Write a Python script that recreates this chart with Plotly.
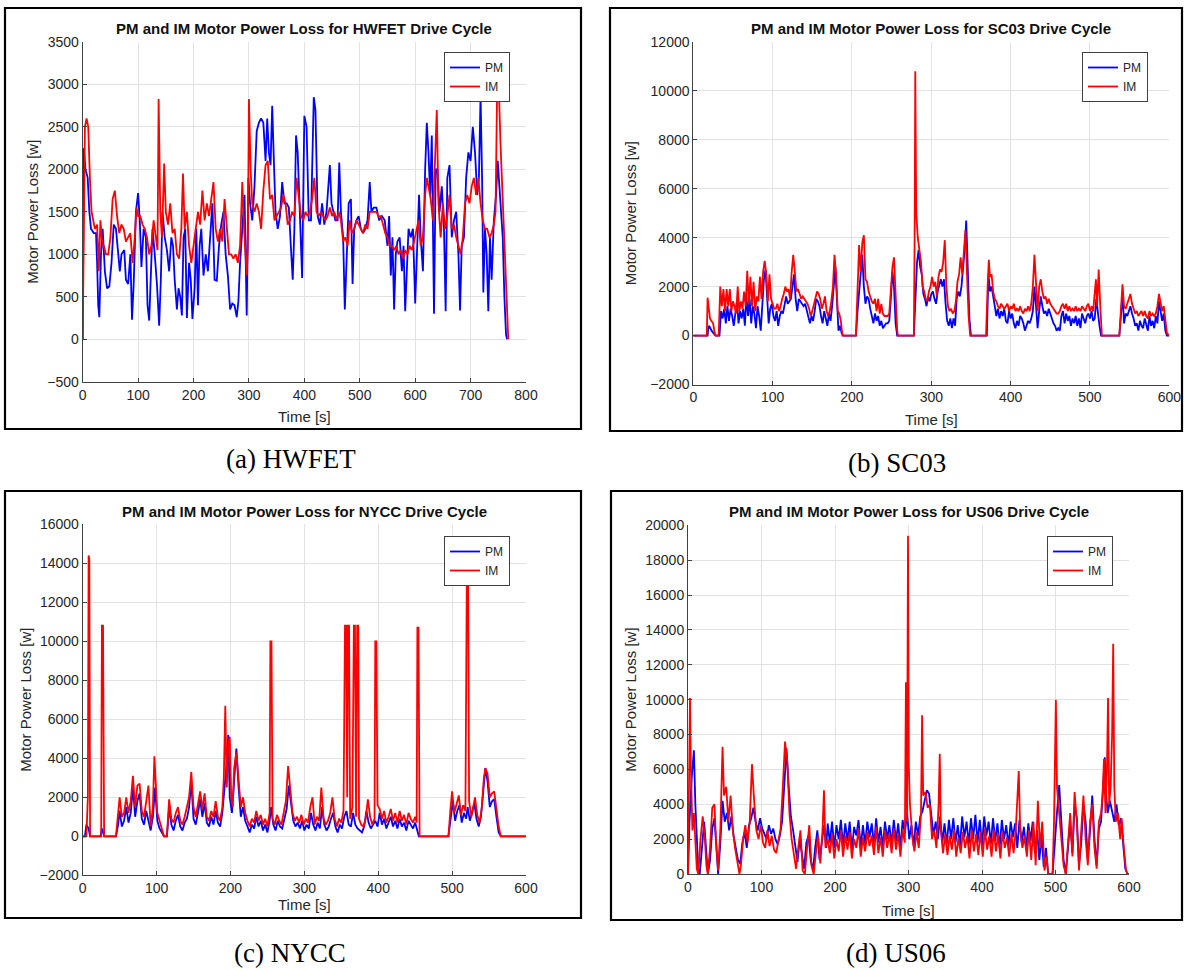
import plotly.graph_objects as go

W, H = 1184, 970

# ---------------- DATA (time [s], loss [W]) ----------------
HWFET_PM = [[0,0],[2,2250],[5,2000],[9,1900],[12,1500],[15,1300],[20,1250],[24,1250],[26,900],[28,400],[30,260],[33,1000],[36,1300],[40,800],[44,600],[48,620],[52,900],[56,1350],[60,1300],[64,1050],[67,800],[70,1000],[75,1050],[78,700],[82,650],[86,1000],[89,230],[92,650],[96,1500],[100,1720],[103,1400],[106,850],[110,1300],[114,1200],[117,400],[120,220],[123,750],[126,1300],[130,1000],[134,650],[138,160],[141,700],[144,1500],[148,1200],[152,1050],[156,800],[160,1200],[163,1100],[166,700],[170,350],[173,600],[176,500],[179,280],[182,1200],[185,1300],[188,250],[192,900],[195,700],[198,240],[202,600],[205,1300],[208,400],[211,1100],[214,1300],[218,750],[222,1000],[226,800],[230,1200],[234,1600],[238,700],[242,690],[246,1100],[250,1350],[254,1500],[258,1000],[262,750],[266,350],[270,420],[274,400],[278,260],[281,450],[284,900],[288,1300],[292,1700],[296,280],[299,1900],[302,1600],[306,1400],[310,1800],[314,2450],[318,2550],[322,2600],[326,2550],[330,2100],[333,2600],[336,2200],[339,2050],[342,2750],[345,2100],[348,1500],[352,1300],[356,1450],[360,1850],[364,1600],[368,1600],[372,1550],[376,1050],[379,700],[382,1300],[385,2400],[388,2200],[392,1500],[396,720],[400,2630],[404,2500],[408,1400],[412,1400],[417,2850],[420,2700],[424,1450],[428,1350],[432,1600],[436,1350],[440,1500],[446,2050],[449,1600],[452,1500],[456,1400],[460,1400],[463,2080],[466,1500],[470,1200],[473,350],[476,1000],[480,1600],[484,1650],[487,650],[490,1300],[494,1400],[498,1450],[502,1300],[506,1250],[510,1300],[514,1400],[518,1850],[521,1500],[525,1550],[530,1550],[535,1400],[540,1450],[545,1400],[550,1100],[553,1450],[556,750],[559,1200],[562,350],[565,1000],[568,1150],[572,1200],[576,800],[579,1100],[582,330],[585,900],[588,1300],[592,1200],[596,1300],[600,420],[603,1000],[607,1700],[610,1200],[614,800],[618,2000],[621,2550],[624,2200],[627,1700],[630,2400],[634,300],[637,2000],[640,2000],[644,1500],[648,1800],[652,1300],[655,330],[658,1900],[662,2050],[666,1200],[670,1400],[674,1500],[678,1000],[681,340],[684,1100],[688,1200],[692,1900],[696,2200],[700,2100],[704,2500],[708,2200],[712,1700],[715,1900],[718,2870],[721,1800],[723,550],[726,1300],[729,1000],[732,330],[735,1200],[738,700],[742,1400],[746,1700],[749,2100],[752,1800],[755,1600],[758,1200],[761,500],[764,50],[766,0]]
HWFET_IM = [[0,0],[2,1000],[4,2500],[7,2600],[10,2500],[13,1900],[16,1500],[19,1400],[22,1300],[26,1350],[29,800],[32,1400],[35,1150],[38,1100],[42,1000],[46,1000],[50,1200],[54,1650],[58,1750],[62,1450],[66,1250],[70,1350],[74,1300],[78,1150],[82,1200],[86,1250],[90,900],[94,1200],[97,1550],[100,1450],[104,1450],[108,1350],[112,1300],[116,1200],[120,1000],[124,1100],[128,1400],[132,1200],[135,1050],[137,2830],[140,1500],[143,1200],[147,2070],[150,1500],[154,1350],[158,1600],[162,1250],[166,1300],[170,1000],[174,950],[178,1300],[181,1950],[184,1300],[188,1500],[192,1100],[196,900],[200,1100],[204,1300],[208,1500],[212,1350],[216,1750],[220,1400],[224,1600],[228,1450],[232,1650],[236,1850],[240,1300],[244,1150],[248,1300],[252,1150],[256,1650],[260,1300],[264,1000],[268,1000],[272,950],[276,1000],[280,900],[284,1100],[288,1850],[292,1200],[296,750],[298,1100],[300,2830],[303,2000],[306,1600],[310,1500],[314,1600],[318,1500],[322,1300],[326,1750],[330,2050],[334,2100],[338,1650],[342,1700],[346,1400],[350,1450],[354,1500],[358,1550],[362,1700],[366,1600],[370,1350],[374,1400],[378,1500],[382,1450],[386,1900],[390,1700],[394,1450],[398,1400],[402,1500],[406,1450],[410,1500],[414,1650],[418,1900],[422,1500],[426,1450],[430,1500],[434,1450],[438,1400],[442,1450],[446,1550],[450,1450],[454,1500],[458,1400],[462,1500],[466,1400],[470,1150],[474,1200],[478,1100],[482,1400],[486,1250],[490,1300],[494,1400],[498,1350],[502,1300],[506,1250],[510,1350],[514,1300],[518,1500],[522,1500],[526,1500],[530,1500],[534,1450],[538,1450],[542,1350],[546,1250],[550,1200],[554,1100],[558,1100],[562,1050],[566,1100],[570,1000],[574,1050],[578,950],[582,1050],[586,1000],[590,1100],[594,1050],[598,1150],[602,1300],[606,1400],[610,1100],[614,1200],[618,1700],[621,1900],[624,1800],[628,1650],[632,1400],[636,2200],[639,2700],[642,1600],[646,1200],[650,1600],[654,1300],[658,1450],[662,1700],[666,1300],[670,1350],[674,1200],[678,1100],[682,1000],[686,1200],[690,1600],[694,1700],[698,1600],[702,1800],[706,1900],[710,1700],[714,1900],[718,1600],[722,1400],[726,1300],[730,1300],[734,1200],[738,1250],[742,1350],[745,1500],[748,3000],[751,2950],[754,2300],[757,1800],[760,1300],[762,800],[765,400],[768,0]]

SC03_PM = [[0,0],[18,0],[19,300],[20,400],[23,200],[26,100],[28,0],[33,0],[35,1000],[37,700],[39,1100],[41,500],[43,1200],[45,600],[47,1100],[49,800],[51,400],[53,900],[55,1400],[57,500],[59,1000],[61,700],[63,1100],[65,400],[67,1600],[69,800],[71,1500],[73,500],[75,1200],[77,900],[79,300],[81,1200],[83,800],[85,200],[87,1500],[89,2300],[91,2700],[93,1500],[95,500],[97,1100],[99,1300],[101,800],[103,600],[105,1000],[107,400],[109,800],[111,1000],[113,900],[115,1300],[117,1600],[119,1300],[121,1400],[123,1500],[125,2000],[127,2500],[129,1500],[131,1000],[133,1500],[135,1400],[137,1300],[139,1200],[141,1300],[143,1000],[145,700],[147,500],[149,800],[151,600],[153,1000],[155,1500],[157,1400],[159,1200],[161,800],[163,500],[165,1000],[167,700],[169,400],[171,900],[173,600],[175,1200],[177,2200],[179,2800],[181,1500],[183,200],[185,400],[187,100],[189,0],[205,0],[207,1000],[209,1700],[211,2500],[213,3300],[215,2000],[217,1300],[219,1600],[221,1500],[223,1100],[225,800],[227,500],[229,900],[231,600],[233,800],[235,400],[237,600],[239,300],[241,400],[243,500],[245,500],[247,600],[249,1500],[251,2600],[253,2000],[255,500],[257,0],[278,0],[280,1500],[282,3000],[284,3500],[286,2800],[288,2500],[290,1700],[292,1500],[294,1200],[296,1600],[298,1400],[300,1700],[302,1800],[304,1500],[306,1300],[308,1800],[310,2000],[312,2300],[314,2000],[316,2300],[318,1300],[320,600],[322,400],[324,700],[326,300],[328,700],[330,400],[332,1500],[334,1800],[336,1600],[338,2000],[340,2800],[342,3500],[344,4700],[346,3000],[348,700],[350,0],[370,0],[372,2500],[374,1800],[376,2000],[378,1500],[380,1200],[382,800],[384,1100],[386,700],[388,1000],[390,800],[392,1100],[394,600],[396,500],[398,1000],[400,700],[402,900],[404,500],[406,300],[408,600],[410,400],[412,800],[414,700],[416,500],[418,200],[420,400],[422,600],[424,500],[426,700],[428,1000],[430,2000],[432,1200],[434,300],[436,1000],[438,1600],[440,1200],[442,900],[444,1000],[446,800],[448,1100],[450,900],[452,700],[454,500],[456,400],[458,200],[460,300],[462,200],[464,800],[466,1000],[468,500],[470,900],[472,600],[474,800],[476,400],[478,700],[480,500],[482,800],[484,400],[486,700],[488,300],[490,900],[492,700],[494,500],[496,800],[498,900],[500,700],[502,1000],[504,600],[506,700],[508,1500],[510,800],[512,400],[514,0],[537,0],[539,800],[541,1700],[543,500],[545,900],[547,800],[549,1000],[551,1200],[553,900],[555,700],[557,400],[559,500],[561,200],[563,600],[565,400],[567,300],[569,700],[571,500],[573,200],[575,800],[577,400],[579,600],[581,300],[583,800],[585,500],[587,1400],[589,1000],[591,600],[593,900],[595,200],[597,0],[600,0]]
SC03_IM = [[0,0],[17,0],[18,1550],[19.5,1000],[21,700],[23,600],[25,500],[27,100],[28.5,0],[32,0],[34,2000],[36,1200],[38,1900],[40,1000],[42,1900],[44,1200],[46,1900],[48,1000],[50,1400],[52,1200],[54,900],[56,2000],[58,1000],[60,1400],[62,1100],[64,1800],[66,1200],[68,2650],[70,1300],[72,2400],[74,1200],[76,2200],[78,1000],[80,1600],[82,1400],[84,2400],[86,1500],[88,2600],[90,3050],[92,2500],[94,1400],[96,2500],[98,1500],[100,1300],[102,1100],[104,1100],[106,1300],[108,1000],[110,1200],[112,1500],[114,1700],[116,2000],[118,1800],[120,1900],[122,1500],[124,2600],[126,3300],[128,2600],[130,1800],[132,1900],[134,1700],[136,1500],[138,1600],[140,1500],[142,1400],[144,1300],[146,1100],[148,800],[150,1000],[152,1300],[154,1600],[156,1800],[158,1700],[160,1500],[162,1100],[164,1300],[166,1600],[168,1000],[170,800],[172,1000],[174,1400],[176,2000],[178,3300],[180,2500],[182,1000],[184,900],[186,600],[188,0],[205,0],[207,1800],[209,3700],[211,2600],[213,3800],[215,4100],[217,2300],[219,2200],[221,1800],[223,1600],[225,1400],[227,1300],[229,1500],[231,1000],[233,1500],[235,900],[237,1300],[239,900],[241,800],[243,800],[245,800],[247,900],[249,1700],[251,2800],[253,3200],[255,1500],[257,200],[258,0],[278,0],[279,4000],[279.8,10800],[281,5000],[283,4000],[285,3500],[287,3000],[289,2000],[291,1800],[293,1500],[295,1400],[297,1800],[299,2000],[301,2400],[303,2000],[305,2200],[307,1600],[309,2400],[311,2700],[313,2600],[315,3000],[317,3900],[319,2000],[321,1200],[323,1000],[325,1100],[327,900],[329,1000],[331,1400],[333,2200],[335,2500],[337,3200],[339,2500],[341,3400],[343,4300],[345,2500],[347,800],[349,0],[369,0],[371,2000],[372.5,3100],[374,2400],[376,2500],[378,1800],[380,1500],[382,1400],[384,1200],[386,1100],[388,1300],[390,1200],[392,1100],[394,1200],[396,1300],[398,1000],[400,1200],[402,1100],[404,1300],[406,1000],[408,1100],[410,1000],[412,1200],[414,1000],[416,900],[418,1100],[420,1000],[422,1200],[424,1000],[426,1300],[428,2000],[430,3300],[432,2000],[434,1000],[436,2000],[438,2300],[440,1800],[442,1500],[444,1600],[446,1300],[448,1500],[450,1300],[452,1200],[454,1100],[456,1000],[458,900],[460,900],[462,1000],[464,1200],[466,1300],[468,1100],[470,1300],[472,1000],[474,1200],[476,1000],[478,1100],[480,1000],[482,1200],[484,1000],[486,1100],[488,1000],[490,1200],[492,1100],[494,1000],[496,1200],[498,1300],[500,1000],[502,1200],[504,1000],[506,1600],[507.5,2300],[509,1200],[511,2700],[513,1200],[515,0],[537,0],[539,1000],[541,2100],[543,1200],[545,1100],[547,1300],[549,1500],[551,1700],[553,1300],[555,1100],[557,900],[559,1000],[561,800],[563,900],[565,1000],[567,800],[569,1000],[571,800],[573,700],[575,1000],[577,800],[579,900],[581,800],[583,900],[585,1200],[587,1700],[589,1400],[591,1000],[593,1200],[595,700],[597,100],[600,0]]

NYCC_PM = [[0,0],[3,0],[5,600],[8,400],[10,0],[24,0],[26,400],[29,0],[45,0],[48,600],[50,1300],[53,500],[56,800],[59,1500],[62,700],[65,1200],[68,2500],[71,1000],[74,1800],[77,2200],[80,900],[83,600],[86,1300],[89,800],[92,300],[95,1000],[98,2500],[101,800],[104,400],[107,200],[110,0],[114,0],[117,1500],[120,600],[123,300],[126,800],[129,1100],[132,500],[135,300],[138,700],[141,900],[144,1500],[147,2800],[150,900],[153,600],[156,1200],[159,1900],[162,1000],[165,1700],[168,700],[171,500],[174,1000],[177,600],[180,1300],[183,700],[186,500],[189,1200],[192,2500],[195,3800],[197,5200],[199,2000],[202,1200],[205,3000],[208,4500],[211,2500],[214,1000],[217,1500],[220,800],[223,500],[226,200],[229,600],[232,400],[235,1000],[238,500],[241,800],[244,300],[247,600],[250,200],[253,800],[255,1500],[258,600],[261,300],[264,800],[267,500],[270,400],[273,900],[276,1400],[279,2600],[282,1800],[285,800],[288,500],[291,700],[294,400],[297,800],[300,300],[303,600],[306,400],[309,1200],[312,600],[315,300],[318,700],[321,400],[324,1500],[327,600],[330,300],[333,500],[336,900],[339,1200],[342,500],[345,200],[348,600],[351,400],[354,1000],[357,1300],[360,600],[363,500],[366,1200],[369,600],[372,400],[375,300],[378,200],[381,500],[384,1300],[387,700],[390,400],[393,600],[396,800],[399,500],[402,1200],[405,600],[408,900],[411,400],[414,700],[417,1000],[420,500],[423,800],[426,400],[429,900],[432,500],[435,700],[438,300],[441,800],[444,600],[447,400],[450,700],[453,300],[455,0],[495,0],[498,1000],[501,1800],[504,800],[507,1300],[510,1600],[513,700],[516,1200],[519,900],[521,1500],[524,800],[527,1200],[530,1700],[533,900],[536,500],[539,1000],[542,2500],[545,3500],[548,2800],[551,1500],[554,1800],[557,1900],[560,1000],[563,200],[566,0],[600,0]]
NYCC_IM = [[0,0],[5,0],[7,2000],[8,14400],[9,14200],[10,0],[25,0],[26,10800],[27.5,10800],[29,0],[45,0],[48,1000],[50,2000],[53,1000],[56,1200],[59,2000],[62,1200],[65,1800],[68,3100],[71,1500],[74,2600],[77,2700],[80,1300],[83,1000],[86,1800],[89,2600],[92,500],[95,1500],[97,4100],[99,2500],[101,1200],[104,800],[107,400],[110,0],[114,0],[117,1900],[120,900],[123,700],[126,1200],[129,1500],[132,800],[135,600],[138,1000],[141,1500],[144,2000],[147,3300],[150,1500],[153,1000],[156,1600],[159,2300],[162,1400],[165,2200],[168,1000],[171,800],[174,1300],[177,1000],[180,1800],[183,1000],[186,800],[189,1500],[191,3000],[193,6700],[195,2500],[197,4800],[199,5100],[201,2000],[203,1500],[205,3500],[208,4300],[211,2800],[214,1500],[217,2000],[220,1200],[223,800],[226,500],[229,900],[232,700],[235,1300],[238,800],[241,1100],[244,600],[247,900],[250,500],[253,1200],[254,10000],[255.5,10000],[257,900],[260,600],[263,1100],[266,800],[269,600],[272,1200],[275,1800],[278,3600],[281,2500],[284,1200],[287,800],[290,1000],[293,700],[296,1100],[299,600],[302,900],[305,700],[308,1500],[311,2000],[314,600],[317,1000],[320,800],[323,2500],[326,900],[329,600],[332,800],[335,1200],[338,2000],[341,900],[344,500],[347,900],[350,700],[353,1300],[355,10800],[356.5,10800],[358,2000],[359,10800],[360.5,10800],[362,900],[365,1500],[367,10800],[368.5,10800],[370,1000],[371.5,10800],[373,10800],[374,900],[377,600],[380,500],[383,900],[386,1900],[389,1000],[392,600],[395,900],[396,10000],[397.5,10000],[399,1600],[402,1400],[405,900],[408,1300],[411,700],[414,1000],[417,1400],[420,800],[423,1200],[426,700],[429,1300],[432,800],[435,1100],[438,600],[441,1200],[444,900],[447,700],[450,1000],[452,700],[453,10700],[454.5,10700],[456,0],[495,0],[498,1500],[500,2300],[503,1200],[506,1700],[509,2100],[512,1100],[515,1600],[518,1300],[520,13900],[521.5,13900],[523,1800],[526,1000],[529,1700],[531,2000],[534,1100],[537,700],[540,1400],[543,3000],[545,3500],[548,3200],[551,2000],[554,2200],[557,2300],[560,1500],[563,500],[566,0],[600,0]]

US06_PM = [[0,0],[2,3000],[5,5500],[8,7100],[10,4000],[12,1500],[14,200],[16,0],[19,1500],[22,3000],[25,1200],[27,0],[30,800],[33,2600],[36,3200],[39,1000],[41,0],[44,1800],[47,4200],[50,3000],[53,3500],[56,2500],[59,3300],[62,2200],[65,1500],[68,800],[71,600],[74,1800],[77,2400],[80,1500],[83,2800],[86,3200],[89,3800],[92,3000],[95,2500],[98,3200],[101,2600],[104,2300],[107,2000],[110,2800],[113,2300],[116,2600],[119,2000],[122,1700],[125,2200],[128,3000],[131,5500],[134,7200],[137,5000],[140,3300],[143,2500],[146,1500],[149,700],[152,2000],[155,1000],[158,300],[161,1800],[164,2200],[167,800],[170,200],[173,1500],[176,2500],[179,800],[182,1800],[185,2800],[188,1500],[190,2900],[193,1800],[196,3000],[199,1500],[202,2800],[205,2000],[208,3100],[211,1600],[214,2900],[217,1900],[220,3000],[223,1400],[226,2700],[229,2200],[232,3100],[235,1500],[238,2800],[241,1700],[244,3000],[247,2100],[250,2900],[253,1600],[256,3200],[259,1800],[262,2700],[265,1500],[268,3000],[271,2000],[274,2800],[277,1700],[280,3100],[283,1900],[286,2900],[289,1500],[292,3100],[295,2300],[298,3500],[301,2000],[304,2800],[307,1600],[310,3000],[313,2200],[316,3300],[319,3600],[322,4200],[325,4800],[328,4600],[331,3500],[334,2200],[337,3000],[340,2000],[343,3300],[346,1800],[349,2900],[352,1700],[355,3100],[358,2000],[361,3200],[364,1800],[367,2800],[370,1600],[373,3300],[376,2100],[379,3000],[382,1700],[385,3200],[388,2000],[391,3400],[394,1800],[397,3100],[400,1600],[403,3300],[406,2200],[409,3000],[412,1700],[415,3200],[418,1900],[421,2900],[424,1500],[427,3100],[430,2000],[433,2800],[436,1600],[439,3000],[442,2100],[445,2900],[448,1500],[451,3100],[454,1800],[457,2700],[460,1400],[463,2900],[466,1900],[469,3000],[472,1200],[475,2500],[478,800],[481,2200],[484,400],[487,1500],[490,0],[496,0],[499,2000],[502,3500],[505,5100],[508,3000],[511,800],[514,0],[517,1500],[520,3000],[523,1200],[526,4000],[529,3200],[532,500],[535,1800],[538,4000],[541,3000],[544,800],[547,2500],[550,4500],[553,2000],[556,500],[559,2600],[562,3000],[565,5200],[567,6700],[569,4500],[571,3500],[574,4200],[577,3600],[580,3000],[583,4000],[586,2800],[589,3200],[592,1500],[595,300],[598,0],[600,0]]
US06_IM = [[0,0],[1.5,7000],[2.7,10100],[4,6000],[6,2500],[8,3500],[10,1500],[12,300],[14,0],[17,2000],[20,3300],[23,2000],[25,500],[27,0],[30,1500],[33,3800],[36,4000],[38,2000],[41,200],[44,2500],[47,7300],[49,4500],[52,5000],[55,3000],[58,4500],[61,2500],[64,1500],[67,800],[70,0],[72,500],[75,2000],[78,2800],[81,1800],[84,3000],[87,6300],[90,4200],[93,2500],[96,2000],[99,2800],[102,1800],[105,1500],[108,2500],[111,1600],[114,2200],[117,1400],[120,1200],[123,1800],[126,2600],[129,5000],[132,7600],[135,6500],[138,3500],[141,2000],[144,1200],[147,300],[150,1500],[153,2500],[156,200],[159,0],[162,1500],[165,2800],[168,500],[171,0],[174,1200],[177,2200],[180,600],[183,2500],[185,4800],[187,1500],[190,2000],[193,1200],[196,2300],[199,900],[202,2000],[205,1300],[208,2500],[211,1000],[214,2200],[217,1400],[220,2400],[223,900],[226,2000],[229,1500],[232,2600],[235,1000],[238,2100],[241,1300],[244,2400],[247,1600],[250,2200],[253,1100],[256,2700],[259,1200],[262,2100],[265,1000],[268,2500],[271,1500],[274,2300],[277,1200],[280,2600],[283,1400],[286,2300],[289,1000],[292,2500],[295,1800],[296.5,11000],[298,3000],[299.3,19400],[300.5,6000],[302,4000],[305,2200],[308,1300],[311,2400],[314,1500],[317,3500],[318.5,9100],[320,4500],[323,4700],[326,3800],[329,4000],[332,2000],[335,2500],[338,1500],[341,4000],[342.5,6900],[344,2500],[347,1200],[350,2300],[353,1100],[356,2200],[359,1400],[362,2500],[365,1000],[368,2100],[371,1200],[374,2400],[377,1500],[380,2200],[383,900],[386,2500],[389,1300],[392,2300],[395,1100],[398,2400],[401,1000],[404,2600],[407,1400],[410,2200],[413,1000],[416,2500],[419,1300],[422,2300],[425,900],[428,2400],[431,1500],[434,2100],[437,1000],[440,2300],[443,1200],[446,2600],[448,4000],[450,5900],[452,2500],[455,1500],[458,2200],[461,1000],[464,2500],[467,800],[470,3000],[473,500],[476,4200],[479,1500],[482,3000],[485,200],[488,1000],[490,0],[496,0],[498,3000],[500.5,10000],[502,5000],[505,3500],[508,2000],[511,500],[514,0],[517,2000],[520,3500],[523,1000],[526,4700],[529,3000],[532,200],[535,2500],[538,4500],[541,2000],[544,500],[547,3000],[550,4000],[553,1500],[556,300],[559,3000],[562,3500],[564,4500],[566,6600],[568,3500],[570,6000],[571.5,10100],[573,4000],[575,5000],[577,8000],[578.5,13200],[580,5000],[582,3000],[585,3500],[588,2000],[590,3200],[593,1500],[596,200],[598,0],[600,0]]

CYCLES = ["HWFET", "SC03", "NYCC", "US06"]
CAPTIONS = ["(a) HWFET", "(b) SC03", "(c) NYCC", "(d) US06"]
SERIES = {"HWFET": (HWFET_PM, HWFET_IM), "SC03": (SC03_PM, SC03_IM),
          "NYCC": (NYCC_PM, NYCC_IM), "US06": (US06_PM, US06_IM)}
X_RANGES = {"HWFET": (0, 800), "SC03": (0, 600), "NYCC": (0, 600), "US06": (0, 600)}
Y_RANGES = {"HWFET": (-500, 3500, 500), "SC03": (-2000, 12000, 2000),
            "NYCC": (-2000, 16000, 2000), "US06": (0, 20000, 2000)}

# ---------------- LAYOUT (pixel boxes) ----------------
def fx(p):
    return p / W

def fy(p):
    return 1 - p / H

# plot areas: (left, right, top, bottom) in pixels
AREAS = {"HWFET": (82.7, 526, 42, 381.7), "SC03": (693.3, 1169.3, 42, 384.5),
         "NYCC": (82.7, 526, 524.3, 875.3), "US06": (688, 1129, 525.3, 874)}
FRAMES = {"HWFET": (5, 581, 8, 429), "SC03": (610, 1182, 8, 431),
          "NYCC": (5, 581, 491, 918), "US06": (611, 1182, 491, 920)}
TITLE_Y = {"HWFET": 28, "SC03": 28, "NYCC": 511, "US06": 511}
XLABEL_Y = {"HWFET": 416, "SC03": 419, "NYCC": 904, "US06": 910}
YLABEL_X = {"HWFET": 33, "SC03": 630, "NYCC": 26, "US06": 631}
LEGEND_POS = {"HWFET": (444, 52), "SC03": (1082, 52), "NYCC": (444, 536), "US06": (1047, 536)}
CAPTION_POS = {"HWFET": (291, 459), "SC03": (897, 463), "NYCC": (290, 953), "US06": (896, 953)}

FONT = "Liberation Sans, Arial, sans-serif"
TXT = "#262626"
BLUE = "#0000FF"
RED = "#FF0000"

fig = go.Figure()
layout = dict(width=W, height=H, margin=dict(l=0, r=0, t=0, b=0, autoexpand=False),
              paper_bgcolor="white", plot_bgcolor="white", template="none",
              font=dict(family=FONT, color=TXT), showlegend=True)
annotations = []
shapes = []

for i, cyc in enumerate(CYCLES):
    n = i + 1
    xa = "x" if n == 1 else f"x{n}"
    ya = "y" if n == 1 else f"y{n}"
    lg = "legend" if n == 1 else f"legend{n}"
    pm, im = SERIES[cyc]
    for data, name, color in ((pm, "PM", BLUE), (im, "IM", RED)):
        fig.add_trace(go.Scatter(x=[p[0] for p in data], y=[p[1] for p in data],
                                 mode="lines", name=name, legend=lg,
                                 line=dict(color=color, width=1.8),
                                 xaxis=xa, yaxis=ya))
    l, r, t, b = AREAS[cyc]
    x0, x1 = X_RANGES[cyc]
    y0, y1, dy = Y_RANGES[cyc]
    axcommon = dict(showline=True, linecolor="#404040", linewidth=1,
                    ticks="inside", ticklen=4, tickcolor="#404040",
                    showgrid=True, gridcolor="#e2e2e2", gridwidth=1,
                    zeroline=False, mirror=False, automargin=False,
                    tickformat="d",
                    tickfont=dict(size=14, color=TXT, family=FONT))
    kx = "xaxis" if n == 1 else f"xaxis{n}"
    ky = "yaxis" if n == 1 else f"yaxis{n}"
    layout[kx] = dict(domain=[fx(l), fx(r)], range=[x0, x1], anchor=ya,
                      tickvals=list(range(x0, x1 + 1, 100)), **axcommon)
    layout[ky] = dict(domain=[fy(b), fy(t)], range=[y0, y1], anchor=xa,
                      tickvals=list(range(y0, y1 + 1, dy)), **axcommon)
    lx, ly = LEGEND_POS[cyc]
    layout[lg] = dict(x=fx(lx), y=fy(ly), xanchor="left", yanchor="top",
                      bgcolor="white", bordercolor="#404040", borderwidth=1,
                      font=dict(size=12, family=FONT, color=TXT),
                      tracegroupgap=0, itemwidth=30)
    cx = (l + r) / 2
    annotations.append(dict(text=f"<b>PM and IM Motor Power Loss for {cyc} Drive Cycle</b>",
                            x=fx(cx), y=fy(TITLE_Y[cyc]), xref="paper", yref="paper",
                            showarrow=False, xanchor="center", yanchor="middle",
                            font=dict(size=15, family=FONT, color="#111111")))
    annotations.append(dict(text="Time [s]", x=fx(cx), y=fy(XLABEL_Y[cyc]),
                            xref="paper", yref="paper", showarrow=False,
                            xanchor="center", yanchor="middle",
                            font=dict(size=15, family=FONT, color=TXT)))
    annotations.append(dict(text="Motor Power Loss [w]", x=fx(YLABEL_X[cyc]), y=fy((t + b) / 2),
                            xref="paper", yref="paper", showarrow=False, textangle=-90,
                            xanchor="center", yanchor="middle",
                            font=dict(size=15, family=FONT, color=TXT)))
    capx, capy = CAPTION_POS[cyc]
    annotations.append(dict(text=CAPTIONS[i], x=fx(capx), y=fy(capy),
                            xref="paper", yref="paper", showarrow=False,
                            xanchor="center", yanchor="middle",
                            font=dict(size=27, family="Liberation Serif, Times New Roman, serif",
                                      color="black")))
    fl, fr, ft, fb = FRAMES[cyc]
    shapes.append(dict(type="rect", xref="paper", yref="paper",
                       x0=fx(fl), x1=fx(fr), y0=fy(fb), y1=fy(ft),
                       line=dict(color="black", width=2.2), fillcolor="rgba(0,0,0,0)"))

layout["annotations"] = annotations
layout["shapes"] = shapes
fig.update_layout(**layout)
fig.write_html("out.html",
               post_script="document.body.style.margin='0';"
                           "document.documentElement.style.overflow='hidden';"
                           "document.body.style.overflow='hidden';")
